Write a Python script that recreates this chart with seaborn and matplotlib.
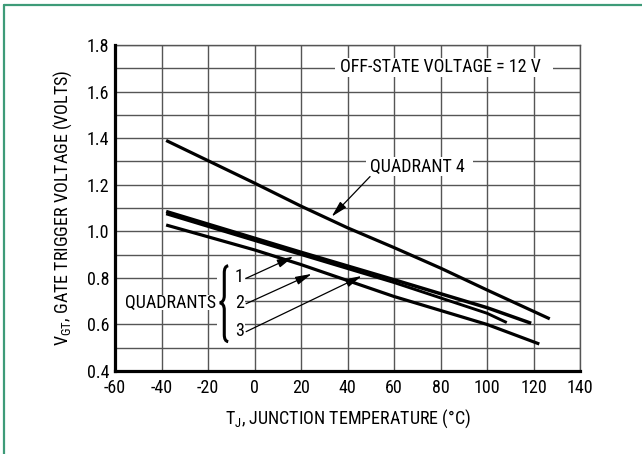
import matplotlib
matplotlib.use("Agg")
import matplotlib.pyplot as plt
import seaborn as sns
import pandas as pd
from matplotlib.patches import Rectangle, PathPatch
from matplotlib.path import Path
from matplotlib.lines import Line2D

# ---- data ----
t_q4 = [-38, 0, 20, 40, 60, 80, 100, 127]
v_q4 = [1.39, 1.207, 1.108, 1.015, 0.93, 0.842, 0.748, 0.624]

t_q1 = [-38, 20, 60, 100, 119]
v_q1 = [1.085, 0.91, 0.792, 0.672, 0.605]

t_q2 = [-38, 20, 60, 100, 108.5]
v_q2 = [1.075, 0.90, 0.78, 0.648, 0.608]

t_q3 = [-38, 0, 20, 60, 100, 122.5]
v_q3 = [1.027, 0.92, 0.857, 0.72, 0.60, 0.516]

x_ticks = [-60, -40, -20, 0, 20, 40, 60, 80, 100, 120, 140]
y_ticks = [0.4, 0.6, 0.8, 1.0, 1.2, 1.4, 1.6, 1.8]
y_grid = [0.5, 0.7, 0.9, 1.1, 1.3, 1.5, 1.7]

sns.set_theme(style="white")
FONT = ["Roboto Condensed", "DejaVu Sans"]
plt.rcParams["font.family"] = FONT
FS = 13

fig = plt.figure(figsize=(6.42, 4.54), dpi=100)
ax = fig.add_axes([115/642, 1-371/454, 465/642, 326/454])

df = pd.concat([
    pd.DataFrame({"T": t_q4, "V": v_q4, "q": "4"}),
    pd.DataFrame({"T": t_q1, "V": v_q1, "q": "1"}),
    pd.DataFrame({"T": t_q2, "V": v_q2, "q": "2"}),
    pd.DataFrame({"T": t_q3, "V": v_q3, "q": "3"}),
])
for q, lw in [("4", 2.3), ("1", 2.5), ("2", 2.1), ("3", 2.3)]:
    sub = df[df["q"] == q]
    sns.lineplot(data=sub, x="T", y="V", ax=ax, color="black", lw=lw,
                 solid_capstyle="butt", zorder=5, legend=False, sort=False)

ax.set_xlim(-60, 140)
ax.set_ylim(0.4, 1.8)
ax.set_xticks(x_ticks)
ax.set_yticks(y_ticks)
ax.set_xticklabels([str(v) for v in x_ticks])
ax.set_yticklabels([f"{v:.1f}" for v in y_ticks])
ax.set_yticks(y_grid, minor=True)
ax.tick_params(axis="both", which="both", length=0, labelsize=FS, colors="black")
ax.tick_params(axis="x", pad=6)
ax.tick_params(axis="y", pad=4)
ax.grid(True, which="both", color="#555555", lw=1.0)
ax.set_axisbelow(True)

for s in ["top", "right"]:
    ax.spines[s].set_color("#555555")
    ax.spines[s].set_linewidth(1.0)
for s in ["left", "bottom"]:
    ax.spines[s].set_color("black")
    ax.spines[s].set_linewidth(2.3)
    ax.spines[s].set_zorder(6)

plt.rcParams["mathtext.fontset"] = "custom"
plt.rcParams["mathtext.rm"] = "Roboto Condensed"
ax.set_xlabel(r"T$\mathregular{_J}$, JUNCTION TEMPERATURE (°C)", fontsize=FS,
              labelpad=7, color="black")
ax.set_ylabel(r"V$\mathregular{_{GT}}$, GATE TRIGGER VOLTAGE (VOLTS)", fontsize=FS,
              labelpad=9, color="black")

# ---- annotations ----
ax.add_patch(Rectangle((34.6, 1.662), 93.8, 0.083, facecolor="white",
                       edgecolor="none", zorder=3))
ax.text(36.8, 1.704, "OFF-STATE VOLTAGE = 12 V", fontsize=FS, ha="left",
        va="center", zorder=4, color="black")

ax.add_patch(Rectangle((48.0, 1.236), 46.0, 0.085, facecolor="white",
                       edgecolor="none", zorder=3))
ax.text(49.7, 1.276, "QUADRANT 4", fontsize=FS, ha="left", va="center",
        zorder=4, color="black")
ax.annotate("", xy=(33.2, 1.063), xytext=(49.7, 1.235),
            arrowprops=dict(arrowstyle="-|>,head_length=0.7,head_width=0.18",
                            lw=0.9, color="black", shrinkA=0, shrinkB=0,
                            mutation_scale=14), zorder=6)

# QUADRANTS group
ax.add_patch(Rectangle((-59, 0.66), 43.5, 0.068, facecolor="white",
                       edgecolor="none", zorder=3))
ax.text(-36.0, 0.693, "QUADRANTS", fontsize=FS, ha="center", va="center",
        zorder=4, color="black")
ax.add_patch(Rectangle((-16.0, 0.515), 12.0, 0.35, facecolor="white",
                       edgecolor="none", zorder=3))
# brace
bx0, bx1, bxt = -11.3, -13.0, -14.9
yt, ym, yb = 0.852, 0.693, 0.526
verts = [(bx0, yt), (bx1, yt - 0.002), (bx1, yt - 0.03),
         (bx1, ym + 0.03),
         (bx1, ym + 0.004), (bxt, ym),
         (bx1, ym - 0.004), (bx1, ym - 0.03),
         (bx1, yb + 0.03),
         (bx1, yb + 0.002), (bx0, yb)]
codes = [Path.MOVETO, Path.CURVE3, Path.CURVE3, Path.LINETO,
         Path.CURVE3, Path.CURVE3, Path.CURVE3, Path.CURVE3,
         Path.LINETO, Path.CURVE3, Path.CURVE3]
ax.add_patch(PathPatch(Path(verts, codes), facecolor="none", edgecolor="black",
                       lw=2.2, zorder=5, capstyle="butt"))

num_y = [0.802, 0.693, 0.573]
head_pts = [(16.7, 0.891), (24.6, 0.817), (46.1, 0.808)]
for lab, yv, hp in zip(["1", "2", "3"], num_y, head_pts):
    ax.text(-6.5, yv, lab, fontsize=FS, ha="center", va="center", zorder=6,
            color="black")
    ax.annotate("", xy=hp, xytext=(-3.6, yv - 0.004),
                arrowprops=dict(arrowstyle="-|>,head_length=0.7,head_width=0.18",
                                lw=0.9, color="black", shrinkA=0, shrinkB=0,
                                mutation_scale=14), zorder=6)

# green frame (top and left edges)
fig.add_artist(Line2D([4/642, 1.0], [1-4.5/454, 1-4.5/454],
                      transform=fig.transFigure, color="#3e9b78", lw=1.6))
fig.add_artist(Line2D([4/642, 4/642], [1-4.5/454, 0.0],
                      transform=fig.transFigure, color="#3e9b78", lw=1.6))

fig.savefig("out.png", dpi=100, facecolor="white")
